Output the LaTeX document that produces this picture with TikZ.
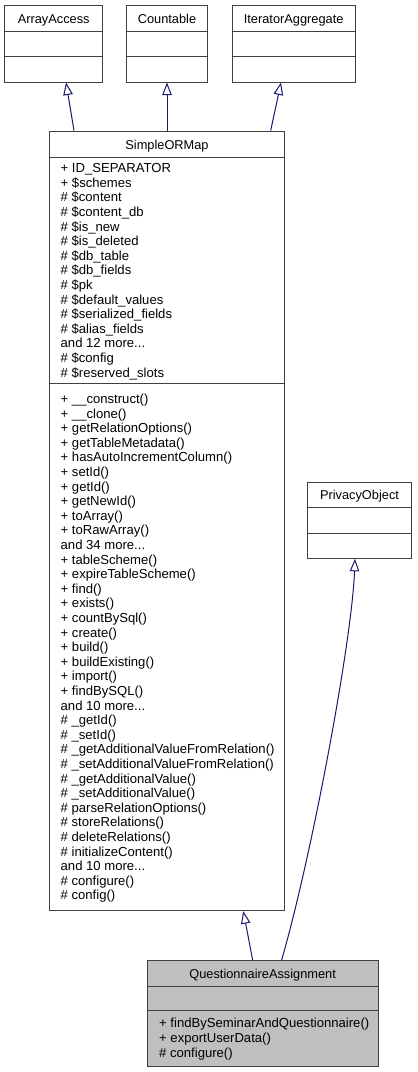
\documentclass[tikz,border=0pt]{standalone}
\usepackage{fontspec}
\setmainfont{Liberation Sans}
\usetikzlibrary{arrows.meta}
\definecolor{edgeblue}{HTML}{191970}
\definecolor{boxline}{HTML}{404040}
\definecolor{qafill}{HTML}{BFBFBF}
\newcommand\mydots{...}
\begin{document}
\begin{tikzpicture}[x=1pt,y=-1pt,
  classbox/.style={draw=boxline, line width=1pt, rectangle, inner sep=0pt, fill=white},
  lbl/.style={font=\fontsize{12.8}{14.6}\selectfont, inner sep=0pt},
  header/.style={lbl, anchor=base},
  member/.style={lbl, font=\fontsize{13.1}{14.6}\selectfont, anchor=base west},
  inh/.style={draw=edgeblue, line width=1pt, -{Triangle[open, fill=white, length=12.5pt, width=9.5pt]}},
  divider/.style={draw=boxline, line width=1pt}]
\fill[white] (0,0) rectangle (418,1072);
\useasboundingbox (0,0) rectangle (418,1072);

% ArrayAccess
\node[classbox, minimum width=98pt, minimum height=76.3pt] (aa) at (53.7,43.85) {};
\node[header] (aaT) at (53.7,23.3) {ArrayAccess};
\draw[divider] ([yshift=-26pt]aa.north west) -- ([yshift=-26pt]aa.north east);
\draw[divider] ([yshift=-51pt]aa.north west) -- ([yshift=-51pt]aa.north east);

% Countable
\node[classbox, minimum width=81.3pt, minimum height=76.3pt] (ct) at (167,43.85) {};
\node[header] (ctT) at (167,23.3) {Countable};
\draw[divider] ([yshift=-26pt]ct.north west) -- ([yshift=-26pt]ct.north east);
\draw[divider] ([yshift=-51pt]ct.north west) -- ([yshift=-51pt]ct.north east);

% IteratorAggregate
\node[classbox, minimum width=122.7pt, minimum height=76.3pt] (ia) at (293.65,43.85) {};
\node[header] (iaT) at (293.65,23.3) {IteratorAggregate};
\draw[divider] ([yshift=-26pt]ia.north west) -- ([yshift=-26pt]ia.north east);
\draw[divider] ([yshift=-51pt]ia.north west) -- ([yshift=-51pt]ia.north east);

% SimpleORMap
\node[classbox, minimum width=235pt, minimum height=779.7pt] (som) at (167,520.85) {};
\node[header] (somT) at (167,149.1) {SimpleORMap};
\draw[divider] ([yshift=-27pt]som.north west) -- ([yshift=-27pt]som.north east);
\draw[divider] ([yshift=-253pt]som.north west) -- ([yshift=-253pt]som.north east);
\foreach \t [count=\i] in {+ ID\_SEPARATOR, + \$schemes, \# \$content, \# \$content\_db,
  \# \$is\_new, \# \$is\_deleted, \# \$db\_table, \# \$db\_fields, \# \$pk,
  \# \$default\_values, \# \$serialized\_fields, \# \$alias\_fields,
  and 12 more\mydots, \# \$config, \# \$reserved\_slots}
  \node[member] (sa\i) at (60.5,{172.6+14.6*(\i-1)}) {\t};
\foreach \t [count=\i] in {+ \_\_construct(), + \_\_clone(), + getRelationOptions(),
  + getTableMetadata(), + hasAutoIncrementColumn(), + setId(), + getId(),
  + getNewId(), + toArray(), + toRawArray(), and 34 more\mydots, + tableScheme(),
  + expireTableScheme(), + find(), + exists(), + countBySql(), + create(),
  + build(), + buildExisting(), + import(), + findBySQL(), and 10 more\mydots,
  \# \_getId(), \# \_setId(), \# \_getAdditionalValueFromRelation(),
  \# \_setAdditionalValueFromRelation(), \# \_getAdditionalValue(),
  \# \_setAdditionalValue(), \# parseRelationOptions(), \# storeRelations(),
  \# deleteRelations(), \# initializeContent(), and 10 more\mydots,
  \# configure(), \# config()}
  \node[member] (sm\i) at (60.5,{403.5+14.6*(\i-1)}) {\t};

% PrivacyObject
\node[classbox, minimum width=104.4pt, minimum height=76pt] (po) at (359.5,520.3) {};
\node[header] (poT) at (359.5,499.9) {PrivacyObject};
\draw[divider] ([yshift=-26pt]po.north west) -- ([yshift=-26pt]po.north east);
\draw[divider] ([yshift=-51.7pt]po.north west) -- ([yshift=-51.7pt]po.north east);

% QuestionnaireAssignment
\node[classbox, fill=qafill, minimum width=230.7pt, minimum height=105.5pt] (qa) at (262.65,1013.25) {};
\node[header] (qaT) at (262.65,978.1) {QuestionnaireAssignment};
\draw[divider] ([yshift=-26pt]qa.north west) -- ([yshift=-26pt]qa.north east);
\draw[divider] ([yshift=-50.5pt]qa.north west) -- ([yshift=-50.5pt]qa.north east);
\foreach \t [count=\i] in {+ findBySeminarAndQuestionnaire(), + exportUserData(), \# configure()}
  \node[member] (qm\i) at (159,{1027.8+14.8*(\i-1)}) {\t};

% inheritance edges
\draw[inh] ([xshift=-93pt]som.north) -- ([xshift=12.3pt]aa.south);
\draw[inh] (som.north) -- (ct.south);
\draw[inh] ([xshift=103.7pt]som.north) -- ([xshift=-12.65pt]ia.south);
\draw[inh] ([xshift=-10pt]qa.north) -- ([xshift=76.3pt]som.south);
\draw[inh] ([xshift=19pt]qa.north) .. controls (312,855) and (352,640) .. ([xshift=-4.5pt]po.south);
\end{tikzpicture}
\end{document}
